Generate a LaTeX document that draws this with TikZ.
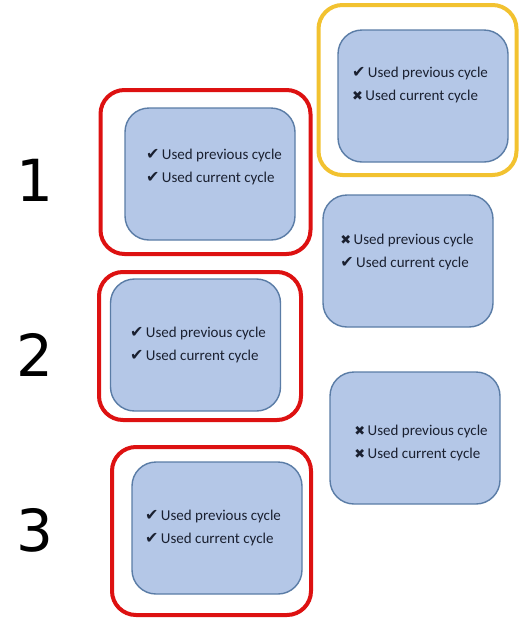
\documentclass[tikz,border=0pt]{standalone}
\usepackage{fontspec}
\setmainfont{Carlito}
\newfontfamily\symfont{DejaVu Sans}
\newfontfamily\digitfont{DejaVu Sans}
\usetikzlibrary{positioning}
\definecolor{boxfill}{HTML}{B4C7E7}
\definecolor{boxline}{HTML}{5A7CA6}
\definecolor{framered}{HTML}{DD1111}
\definecolor{frameyellow}{HTML}{F2C230}
\definecolor{inktext}{HTML}{1A2030}
\newcommand{\yes}{{\symfont\fontsize{16}{16}\selectfont ✔}\,}
\newcommand{\no}{{\symfont\fontsize{13}{13}\selectfont ✖}\,}

\begin{document}
\begin{tikzpicture}[x=1pt,y=-1pt,
   cyclebox/.style={draw=boxline,fill=boxfill,line width=1.4pt,rounded corners=24pt,
                    minimum width=170pt,minimum height=132pt},
   frame/.style={draw,line width=4pt,rounded corners=24pt},
   cycletext/.style={align=left,text=inktext,font=\fontsize{15}{23}\selectfont},
   rowlabel/.style={font=\digitfont\fontsize{58}{58}\selectfont}]
   \useasboundingbox (0,0) rectangle (520,619);
   % frames
   \node[frame,draw=frameyellow,minimum width=198pt,minimum height=170pt] (fa) at (417.5,90) {};
   \node[frame,draw=framered,minimum width=210pt,minimum height=164pt] (f1) at (205.5,172) {};
   \node[frame,draw=framered,minimum width=202pt,minimum height=148pt] (f2) at (200,346) {};
   \node[frame,draw=framered,minimum width=199pt,minimum height=168pt] (f3) at (211.5,531) {};
   % pages
   \node[cyclebox] (a) at (423,96) {};
   \node[cyclebox] (b1) at (210,174) {};
   \node[cyclebox] (c) at (408,261) {};
   \node[cyclebox] (b2) at (195.5,345) {};
   \node[cyclebox] (d) at (415,438) {};
   \node[cyclebox] (b3) at (217,528) {};
   % states
   \node[cycletext] (ta) at (420,85) {\yes Used previous cycle\\\no Used current cycle};
   \node[cycletext] (t1) at (214,167) {\yes Used previous cycle\\\yes Used current cycle};
   \node[cycletext] (tc) at (407,252) {\no Used previous cycle\\\yes Used current cycle};
   \node[cycletext] (t2) at (198,345) {\yes Used previous cycle\\\yes Used current cycle};
   \node[cycletext] (td) at (421,443) {\no Used previous cycle\\\no Used current cycle};
   \node[cycletext] (t3) at (213,528) {\yes Used previous cycle\\\yes Used current cycle};
   % rows
   \node[rowlabel] (r1) at (35,180) {1};
   \node[rowlabel] (r2) at (35,355) {2};
   \node[rowlabel] (r3) at (35,530) {3};
\end{tikzpicture}
\end{document}
